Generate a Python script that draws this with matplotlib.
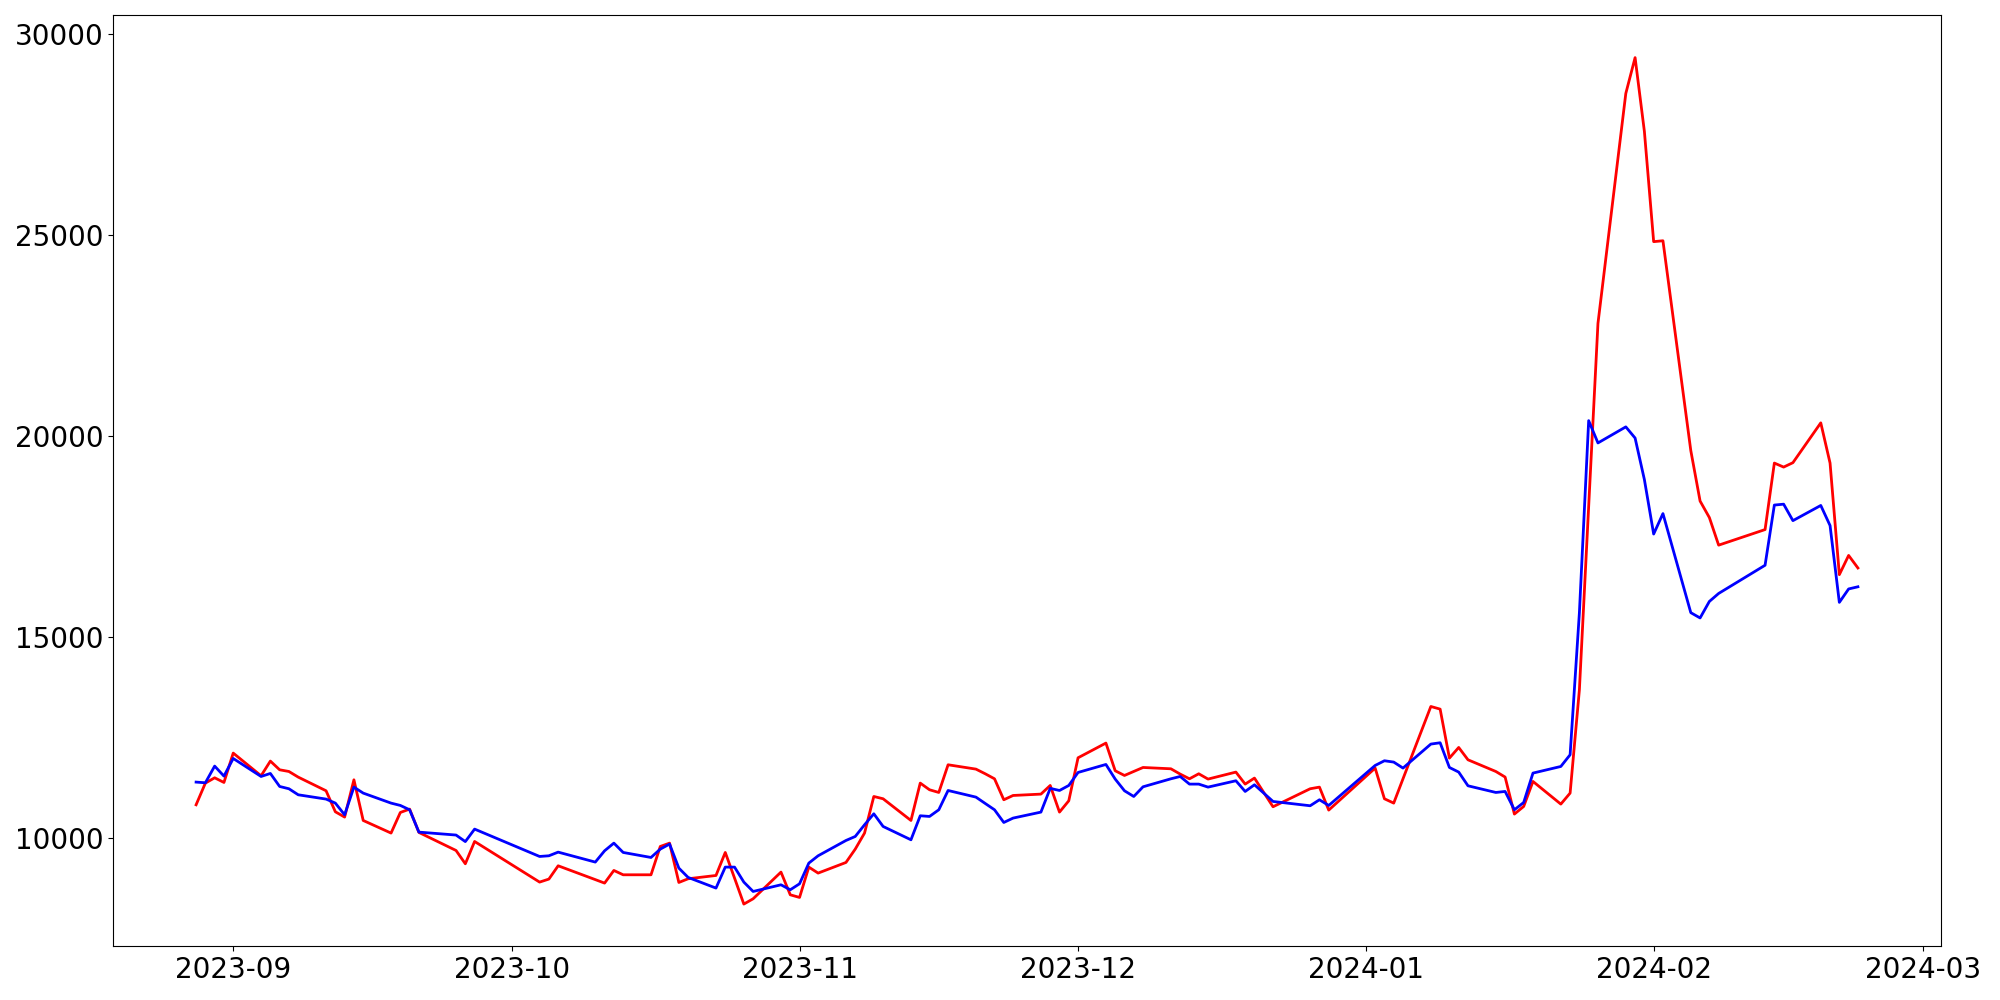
import matplotlib
matplotlib.use("Agg")
import matplotlib.pyplot as plt
import pandas as pd

dates = [
    "2023-08-28", "2023-08-29", "2023-08-30", "2023-08-31",
    "2023-09-01", "2023-09-04", "2023-09-05", "2023-09-06", "2023-09-07", "2023-09-08",
    "2023-09-11", "2023-09-12", "2023-09-13", "2023-09-14", "2023-09-15",
    "2023-09-18", "2023-09-19", "2023-09-20", "2023-09-21", "2023-09-25", "2023-09-26", "2023-09-27",
    "2023-10-04", "2023-10-05", "2023-10-06", "2023-10-10", "2023-10-11", "2023-10-12", "2023-10-13",
    "2023-10-16", "2023-10-17", "2023-10-18", "2023-10-19", "2023-10-20",
    "2023-10-23", "2023-10-24", "2023-10-25", "2023-10-26", "2023-10-27", "2023-10-30", "2023-10-31",
    "2023-11-01", "2023-11-02", "2023-11-03", "2023-11-06", "2023-11-07", "2023-11-08", "2023-11-09",
    "2023-11-10", "2023-11-13", "2023-11-14", "2023-11-15", "2023-11-16", "2023-11-17",
    "2023-11-20", "2023-11-21", "2023-11-22", "2023-11-23", "2023-11-24",
    "2023-11-27", "2023-11-28", "2023-11-29", "2023-11-30",
    "2023-12-01", "2023-12-04", "2023-12-05", "2023-12-06", "2023-12-07", "2023-12-08",
    "2023-12-11", "2023-12-12", "2023-12-13", "2023-12-14", "2023-12-15",
    "2023-12-18", "2023-12-19", "2023-12-20", "2023-12-21", "2023-12-22",
    "2023-12-26", "2023-12-27", "2023-12-28",
    "2024-01-02", "2024-01-03", "2024-01-04", "2024-01-05",
    "2024-01-08", "2024-01-09", "2024-01-10", "2024-01-11", "2024-01-12",
    "2024-01-15", "2024-01-16", "2024-01-17", "2024-01-18", "2024-01-19",
    "2024-01-22", "2024-01-23", "2024-01-24", "2024-01-25", "2024-01-26",
    "2024-01-29", "2024-01-30", "2024-01-31", "2024-02-01", "2024-02-02",
    "2024-02-05", "2024-02-06", "2024-02-07", "2024-02-08",
    "2024-02-13", "2024-02-14", "2024-02-15", "2024-02-16",
    "2024-02-19", "2024-02-20", "2024-02-21", "2024-02-22", "2024-02-23",
]

red_values = [
    10821, 11361, 11493, 11377,
    12108, 11543, 11909, 11692, 11650, 11510,
    11170, 10647, 10515, 11443, 10431,
    10117, 10630, 10714, 10133, 9684, 9353, 9908,
    8897, 8972, 9303, 8959, 8872, 9187, 9079,
    9079, 9784, 9867, 8888, 8980,
    9062, 9635, 8996, 8350, 8482, 9146, 8581,
    8515, 9270, 9121, 9386, 9718, 10117, 11028,
    10971, 10431, 11361, 11195, 11128, 11817,
    11709, 11593, 11468, 10946, 11053,
    11087, 11302, 10639, 10921,
    11991, 12357, 11668, 11551, 11651, 11750,
    11717, 11585, 11468, 11593, 11461,
    11635, 11336, 11486, 11128, 10772,
    11220, 11261, 10689,
    11735, 10971, 10863, 11468,
    13268, 13202, 11983, 12248, 11941,
    11650, 11511, 10590, 10780, 11402,
    10838, 11112, 13684, 18250, 22803,
    28526, 29417, 27582, 24837, 24859,
    19637, 18381, 17970, 17283,
    17671, 19326, 19226, 19336,
    20327, 19326, 16549, 17027, 16715,
]

blue_values = [
    11386, 11369, 11784, 11535,
    11974, 11526, 11601, 11277, 11220, 11070,
    10963, 10863, 10572, 11261, 11112,
    10863, 10805, 10697, 10141, 10068, 9905, 10216,
    9535, 9552, 9643, 9395, 9676, 9867, 9635,
    9510, 9718, 9843, 9245, 9013,
    8748, 9270, 9270, 8897, 8664, 8830, 8706,
    8855, 9370, 9552, 9933, 10033, 10323, 10597,
    10282, 9950, 10548, 10531, 10697, 11177,
    11012, 10854, 10697, 10381, 10490,
    10639, 11230, 11177, 11302,
    11626, 11825, 11461, 11170, 11028, 11269,
    11468, 11526, 11336, 11336, 11261,
    11419, 11153, 11319, 11112, 10904,
    10797, 10946, 10804,
    11800, 11917, 11884, 11735,
    12332, 12365, 11750, 11635, 11294,
    11128, 11153, 10697, 10879, 11610,
    11775, 12066, 15600, 20382, 19827,
    20227, 19949, 18916, 17560, 18069,
    15603, 15471, 15882, 16081,
    16783, 18281, 18303, 17893,
    18271, 17771, 15859, 16193, 16247,
]

x = pd.to_datetime(dates)

fig = plt.figure(figsize=(20, 10), dpi=100)
ax = fig.add_axes([0.0565, 0.0536, 0.914, 0.9311])
ax.plot(x, red_values, color="red", linewidth=2)
ax.plot(x, blue_values, color="blue", linewidth=2)
ax.tick_params(axis="both", labelsize=20)
fig.savefig("out.png", dpi=100)
